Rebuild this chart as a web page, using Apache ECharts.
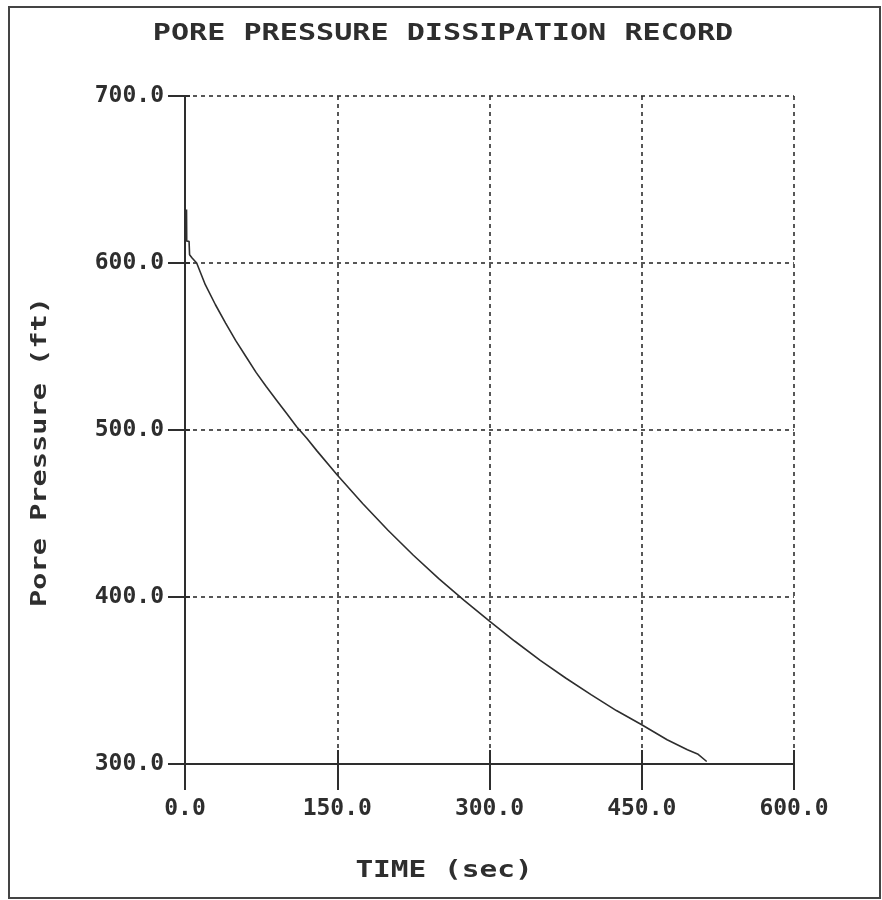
<!DOCTYPE html>
<html>
<head>
<meta charset="utf-8">
<script src="https://cdn.jsdelivr.net/npm/echarts@6/dist/echarts.min.js"></script>
<style>
html,body{margin:0;padding:0;background:#fff;}
#c{width:882px;height:900px;}
</style>
</head>
<body>
<div id="c"></div>
<script>
var titleText = 'PORE PRESSURE DISSIPATION RECORD';
var xName = 'TIME (sec)';
var yName = 'Pore Pressure (ft)';
var xTicks = [0, 150, 300, 450, 600];
var yTicks = [300, 400, 500, 600, 700];
var time = [1.5, 1.7, 4, 4.5, 7, 11.5, 20, 30, 40, 50, 60, 70, 80, 90, 100, 110, 120, 130, 150, 175, 200, 225, 250, 275, 300, 325, 350, 375, 400, 425, 450, 475, 495, 505, 514];
var pressure = [632, 613, 613, 605, 603, 600, 587, 575, 564, 553.5, 544, 534.5, 526, 518, 510, 502, 495, 487.5, 473, 456, 440, 425, 411, 398, 385.5, 373.5, 362, 351.5, 341.5, 332, 323.5, 314.5, 308.5, 306, 301.5];

var ink = '#2e2e2e';
var monoFont = '"DejaVu Sans Mono", "Liberation Mono", monospace';
var pts = time.map(function (t, i) { return [t, pressure[i]]; });

var chart = echarts.init(document.getElementById('c'));
var axisX = {
  type: 'value', min: xTicks[0], max: xTicks[xTicks.length - 1],
  interval: xTicks[1] - xTicks[0]
};
var axisY = {
  type: 'value', min: yTicks[0], max: yTicks[yTicks.length - 1],
  interval: yTicks[1] - yTicks[0]
};
chart.setOption({
  backgroundColor: '#fff',
  animation: false,
  grid: { left: 185, right: 88, top: 96, bottom: 136, containLabel: false },
  xAxis: [
    Object.assign({}, axisX, {
      position: 'bottom',
      axisLine: { show: true, onZero: false, lineStyle: { color: ink, width: 2 } },
      axisTick: { show: true, length: 26, lineStyle: { color: ink, width: 2 } },
      axisLabel: {
        show: true, margin: 34, color: ink, fontFamily: monoFont, fontWeight: 'bold', fontSize: 23,
        formatter: function (v) { return v.toFixed(1); }
      },
      splitLine: { show: true, lineStyle: { color: ink, width: 1.6, type: [4, 4] } }
    }),
    Object.assign({}, axisX, {
      position: 'bottom',
      axisLine: { show: false },
      axisTick: { show: true, inside: true, length: 14, lineStyle: { color: ink, width: 2 } },
      axisLabel: { show: false },
      splitLine: { show: false }
    })
  ],
  yAxis: [
    Object.assign({}, axisY, {
      position: 'left',
      axisLine: { show: true, onZero: false, lineStyle: { color: ink, width: 2 } },
      axisTick: { show: true, length: 17, lineStyle: { color: ink, width: 2 } },
      axisLabel: {
        show: true, margin: 21, color: ink, fontFamily: monoFont, fontWeight: 'bold', fontSize: 23,
        formatter: function (v) { return v.toFixed(1); }
      },
      splitLine: { show: true, lineStyle: { color: ink, width: 1.6, type: [4, 4] } }
    }),
    Object.assign({}, axisY, {
      position: 'left',
      axisLine: { show: false },
      axisTick: { show: true, inside: true, length: 5, lineStyle: { color: ink, width: 2 } },
      axisLabel: { show: false },
      splitLine: { show: false }
    })
  ],
  series: [{
    type: 'line',
    xAxisIndex: 0, yAxisIndex: 0,
    data: pts,
    showSymbol: false,
    symbol: 'none',
    smooth: false,
    lineStyle: { color: ink, width: 1.6 }
  }],
  graphic: [
    {
      type: 'rect', silent: true,
      shape: { x: 9, y: 7, width: 871, height: 891 },
      style: { fill: 'none', stroke: '#444', lineWidth: 2 }
    },
    {
      type: 'text', x: 443, y: 34, scaleX: 1.31, silent: true,
      style: {
        text: titleText, fill: ink, font: 'bold 23px ' + monoFont,
        textAlign: 'center', textVerticalAlign: 'middle'
      }
    },
    {
      type: 'text', x: 444, y: 871, scaleX: 1.28, silent: true,
      style: {
        text: xName, fill: ink, font: 'bold 23px ' + monoFont,
        textAlign: 'center', textVerticalAlign: 'middle'
      }
    },
    {
      type: 'text', x: 40, y: 452, rotation: Math.PI / 2, scaleX: 1.3, silent: true,
      style: {
        text: yName, fill: ink, font: 'bold 22px ' + monoFont,
        textAlign: 'center', textVerticalAlign: 'middle'
      }
    }
  ]
});
</script>
</body>
</html>
